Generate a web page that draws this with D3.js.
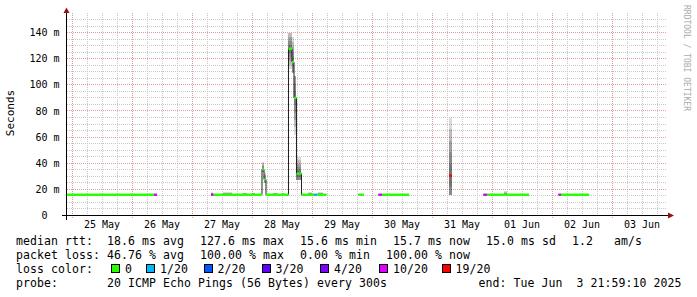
<!DOCTYPE html>
<html>
<head>
<meta charset="utf-8">
<script src="https://cdn.jsdelivr.net/npm/d3@7"></script>
<style>
  html, body { margin: 0; padding: 0; background: #fff; }
  svg { display: block; }
  text { font-family: "DejaVu Sans Mono", monospace; white-space: pre; }
</style>
</head>
<body>
<svg id="chart" width="697" height="297"></svg>
<script>
// samples: each one holds until the next sample time (null median = 100% loss)
const sampleTimes = [
  '2025-05-24 21:59', '2025-05-26 08:47', '2025-05-26 09:59', '2025-05-27 07:35',
  '2025-05-27 08:35', '2025-05-27 12:23', '2025-05-27 15:59', '2025-05-27 20:23',
  '2025-05-27 21:59', '2025-05-27 23:59', '2025-05-28 01:11', '2025-05-28 03:59',
  '2025-05-28 04:47', '2025-05-28 05:35', '2025-05-28 08:23', '2025-05-28 09:59',
  '2025-05-28 11:59', '2025-05-28 12:47', '2025-05-28 14:35', '2025-05-28 15:59',
  '2025-05-28 16:47', '2025-05-28 17:47', '2025-05-28 19:47', '2025-05-28 22:23',
  '2025-05-28 23:59', '2025-05-29 00:47', '2025-05-29 01:59', '2025-05-29 02:23',
  '2025-05-29 04:23', '2025-05-29 05:47', '2025-05-29 18:35', '2025-05-29 20:47',
  '2025-05-30 02:35', '2025-05-30 03:59', '2025-05-30 14:47', '2025-05-31 06:47',
  '2025-05-31 07:59', '2025-05-31 20:35', '2025-05-31 21:59', '2025-06-01 04:47',
  '2025-06-01 05:59', '2025-06-01 14:47', '2025-06-02 02:35', '2025-06-02 03:35',
  '2025-06-02 14:47'
]
const medianMs = [
  15.9, 15.9, null, 15.9, 15.9, 15.9, 15.9, 15.9, 15.9, 15.9, 15.9, 35.3,
  27.6, 15.9, 15.9, 15.9, 15.9, 15.9, 127.6, 117.5, 90.0, 32.0, 15.9, 15.9,
  15.9, 15.9, 15.9, 15.9, 15.9, null, 15.9, null, 15.9, 15.9, null, 30.5,
  null, 15.9, 15.9, 15.9, 15.9, null, 15.9, 15.9, null
]
const lossOf20 = [
  0, 10, 20, 10, 0, 0, 0, 0, 0, 0, 0, 0,
  0, 0, 0, 0, 0, 0, 0, 0, 0, 0, 0, 0,
  0, 1, 0, 0, 0, 20, 0, 20, 10, 0, 20, 19,
  20, 10, 0, 0, 0, 20, 10, 0, 20
]
const smokeLowMs = [
  15.6, 15.6, null, 15.6, 15.6, 15.6, 15.6, 15.6, 15.6, 15.6, 15.6, 33.0,
  24.5, 15.6, 15.6, 15.6, 15.6, 15.6, 112, 109, 62, 27, 15.6, 15.6,
  15.6, 15.6, 15.6, 15.6, 15.6, null, 15.6, null, 15.6, 15.6, null, 15.9,
  null, 15.6, 15.6, 15.6, 15.6, null, 15.6, 15.6, null
]
const smokeHighMs = [
  16.2, 16.2, null, 18.0, 16.2, 18.0, 16.2, 17.6, 16.2, 17.6, 16.2, 41.0,
  33.0, 16.2, 17.6, 16.2, 17.2, 16.2, 140, 137, 107, 45, 16.2, 17.8,
  16.2, 16.2, 16.2, 17.8, 16.2, null, 16.2, null, 16.2, 16.2, null, 75,
  null, 16.2, 16.2, 18.5, 16.2, null, 16.2, 16.2, null
]

const lossLabels = ['0', '1/20', '2/20', '3/20', '4/20', '10/20', '19/20']
const lossBreaks = [1, 2, 3, 4, 10, 19]
const lossColors = ['#26ff00', '#00b8ff', '#0059ff', '#5e00ff', '#7e00ff', '#dd00ff', '#ff0000']

const yTicks = [0, 20, 40, 60, 80, 100, 120, 140]
const rttStats = ['median rtt:  18.6 ms avg', '127.6 ms max', '15.6 ms min', '15.7 ms now', '15.0 ms sd', '1.2   am/s']
const lossStats = ['packet loss: 46.76 % avg', '100.00 % max', '0.00 % min', '100.00 % now']
const probeText = 'probe:       20 ICMP Echo Pings (56 Bytes) every 300s'
const endText = 'end: Tue Jun  3 21:59:10 2025'

const endTime = new Date(Date.UTC(2025, 5, 3, 21, 59, 10))
const startTime = new Date(endTime.getTime() - 10 * 864e5)

let parseTime = d3.utcParse('%Y-%m-%d %H:%M')
let samples = sampleTimes.map(function (s, i) {
  return {
    t0: i === 0 ? startTime : parseTime(s),
    t1: i < sampleTimes.length - 1 ? parseTime(sampleTimes[i + 1]) : endTime,
    median: medianMs[i],
    loss: lossOf20[i],
    lo: smokeLowMs[i],
    hi: smokeHighMs[i]
  }
})

let svg = d3.select('#chart')
let x = d3.scaleUtc().domain([startTime, endTime]).range([67, 667])
let y = d3.scaleLinear().domain([0, 155]).range([215.5, 13])
let lossColor = d3.scaleThreshold().domain(lossBreaks).range(lossColors)
let crisp = function (v) { return Math.round(v - 0.5) + 0.5 }

// grid
let grid = svg.append('g').attr('shape-rendering', 'crispEdges')
let minorY = d3.range(5, 155, 5).filter(function (v) { return v % 20 !== 0 })
grid.selectAll('.gy').data(minorY).enter().append('line')
  .attr('x1', 67).attr('x2', 667)
  .attr('y1', function (d) { return crisp(y(d)) })
  .attr('y2', function (d) { return crisp(y(d)) })
  .attr('stroke', '#c8c8c8').attr('stroke-dasharray', '1,1')
let minorX = d3.utcHour.every(6).range(startTime, endTime)
  .filter(function (d) { return d.getUTCHours() !== 0 })
grid.selectAll('.gx').data(minorX).enter().append('line')
  .attr('y1', 13).attr('y2', 215)
  .attr('x1', function (d) { return crisp(x(d)) })
  .attr('x2', function (d) { return crisp(x(d)) })
  .attr('stroke', '#c8c8c8').attr('stroke-dasharray', '1,1')
grid.selectAll('.my').data(yTicks.slice(1)).enter().append('line')
  .attr('x1', 67).attr('x2', 667)
  .attr('y1', function (d) { return crisp(y(d)) })
  .attr('y2', function (d) { return crisp(y(d)) })
  .attr('stroke', '#e29a9a').attr('stroke-dasharray', '1,1')
let days = d3.utcDay.range(startTime, endTime)
grid.selectAll('.mx').data(days).enter().append('line')
  .attr('y1', 13).attr('y2', 219)
  .attr('x1', function (d) { return crisp(x(d)) })
  .attr('x2', function (d) { return crisp(x(d)) })
  .attr('stroke', '#e29a9a').attr('stroke-dasharray', '1,1')

// smoke: layers grow evenly from the median, clipped to the ping range
let smoke = svg.append('g').attr('shape-rendering', 'crispEdges')
let live = samples.filter(function (s) { return s.median !== null })
d3.range(1, 6).forEach(function (k) {
  let top = function (d) {
    let spread = Math.max(d.hi - d.median, d.median - d.lo)
    return Math.min(d.hi, d.median + spread * k / 5)
  }
  let bottom = function (d) {
    let spread = Math.max(d.hi - d.median, d.median - d.lo)
    return Math.max(d.lo, d.median - spread * k / 5)
  }
  smoke.selectAll('.s' + k).data(live).enter().append('rect')
    .attr('x', function (d) { return x(d.t0) })
    .attr('width', function (d) { return x(d.t1) - x(d.t0) })
    .attr('y', function (d) { return y(top(d)) })
    .attr('height', function (d) { return y(bottom(d)) - y(top(d)) })
    .attr('fill', '#000').attr('fill-opacity', 0.14)
})

// median as a thin step line
let pts = []
samples.forEach(function (s) {
  if (s.median === null) { pts.push(null); return }
  pts.push([s.t0, s.median], [s.t1, s.median])
})
let medianLine = d3.line()
  .defined(function (d) { return d !== null })
  .x(function (d) { return x(d[0]) })
  .y(function (d) { return y(d[1]) })
svg.append('path').attr('d', medianLine(pts))
  .attr('fill', 'none').attr('stroke', '#202020').attr('stroke-width', 1)

// loss coloured median marks
svg.append('g').selectAll('rect').data(live).enter().append('rect')
  .attr('x', function (d) { return x(d.t0) })
  .attr('width', function (d) { return x(d.t1) - x(d.t0) })
  .attr('y', function (d) { return y(d.median) - 1.2 })
  .attr('height', 2.4)
  .attr('fill', function (d) { return lossColor(d.loss) })

// axes
let axes = svg.append('g').attr('shape-rendering', 'crispEdges')
axes.append('line').attr('x1', 66.5).attr('x2', 66.5).attr('y1', 220).attr('y2', 12)
  .attr('stroke', '#000')
axes.append('line').attr('x1', 62).attr('x2', 669).attr('y1', 215.5).attr('y2', 215.5)
  .attr('stroke', '#000')
svg.append('path').attr('d', 'M63.5,13L69.5,13L66.5,7.5Z').attr('fill', '#9a1010')
svg.append('path').attr('d', 'M668,212.5L668,218.5L674,215.5Z').attr('fill', '#9a1010')

svg.selectAll('.ylab').data(yTicks).enter().append('text')
  .attr('x', function (d) { return d === 0 ? 47.5 : 59.5 })
  .attr('y', function (d) { return y(d) + 3.6 })
  .attr('text-anchor', 'end').attr('font-size', '10px')
  .text(function (d) { return d === 0 ? '0' : d + ' m' })

let noons = days.map(function (d) { return d3.utcHour.offset(d, 12) })
  .filter(function (d) { return d < endTime })
svg.selectAll('.xlab').data(noons).enter().append('text')
  .attr('x', function (d) { return x(d) })
  .attr('y', 228).attr('text-anchor', 'middle').attr('font-size', '10px')
  .text(d3.utcFormat('%d %b'))

svg.append('text').attr('transform', 'translate(14,113) rotate(-90)')
  .attr('text-anchor', 'middle').attr('font-size', '11px').text('Seconds')
svg.append('text').attr('transform', 'translate(683.5,5) rotate(90)')
  .attr('font-size', '8px').attr('fill', '#aaa').text('RRDTOOL / TOBI OETIKER')

// legend
let fs = 11.5
let legend = svg.append('g').attr('font-size', fs + 'px')
  .attr('letter-spacing', (7 - 0.6021 * fs).toFixed(3) + 'px')
function legendLine (items, yy) {
  let xx = 16
  items.forEach(function (t) {
    legend.append('text').attr('x', xx).attr('y', yy).text(t)
    xx += t.length * 7 + 16
  })
}
legendLine(rttStats, 244.5)
legendLine(lossStats, 258.5)
legend.append('text').attr('x', 16).attr('y', 272.5).text('loss color:')
let boxX = [111, 146, 203.5, 261.5, 320, 379, 441.5]
lossLabels.forEach(function (l, i) {
  legend.append('rect').attr('x', boxX[i] + 0.5).attr('y', 264.5)
    .attr('width', 8).attr('height', 8)
    .attr('fill', lossColors[i]).attr('stroke', '#000')
    .attr('shape-rendering', 'crispEdges')
  legend.append('text').attr('x', boxX[i] + 14).attr('y', 272.5).text(l)
})
legend.append('text').attr('x', 16).attr('y', 286.5).text(probeText)
legend.append('text').attr('x', 478.5).attr('y', 286.5).text(endText)
</script>
</body>
</html>
